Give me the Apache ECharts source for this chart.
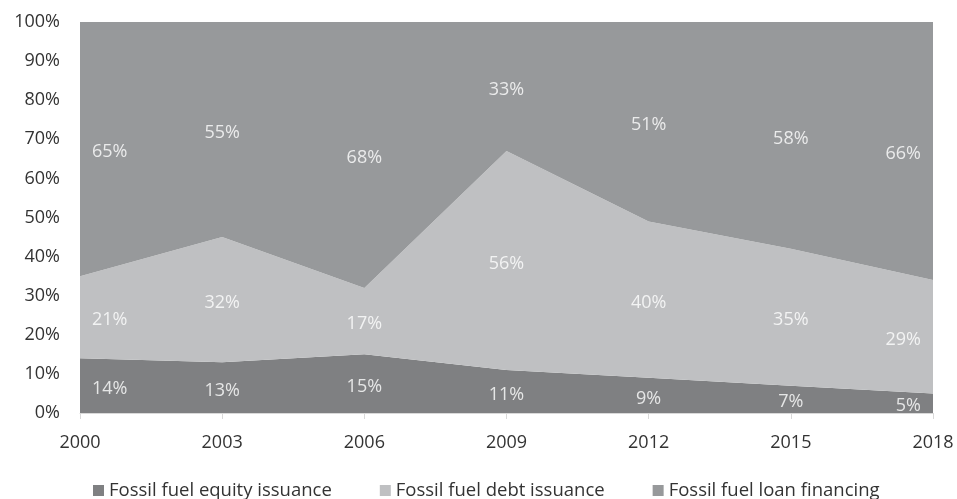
<!DOCTYPE html>
<html>
<head>
<meta charset="utf-8">
<script src="https://cdn.jsdelivr.net/npm/echarts@6/dist/echarts.min.js"></script>
<style>
html, body { margin: 0; padding: 0; background: #fff; }
#chart { width: 957px; height: 499px; }
</style>
</head>
<body>
<div id="chart"></div>
<script>
const years = ['2000', '2003', '2006', '2009', '2012', '2015', '2018']
const equity = [14, 13, 15, 11, 9, 7, 5]
const debt = [21, 32, 17, 56, 40, 35, 29]
const loan = [65, 55, 68, 33, 51, 58, 66]
const yTicks = [0, 10, 20, 30, 40, 50, 60, 70, 80, 90, 100]

const layers = [
  { name: 'Fossil fuel equity issuance', color: '#7f8082', data: equity },
  { name: 'Fossil fuel debt issuance', color: '#bfc0c2', data: debt },
  { name: 'Fossil fuel loan financing', color: '#97999b', data: loan }
]

const font = 'Open Sans, Lato, sans-serif'
const chart = echarts.init(document.getElementById('chart'))

// label points sit in the middle of each band
const labelSeries = layers.map((layer, li) => ({
  type: 'scatter',
  symbolSize: 1,
  silent: true,
  z: 10,
  itemStyle: { color: 'rgba(0,0,0,0)' },
  data: layer.data.map((v, i) => {
    let base = 0
    for (let k = 0; k < li; k++) base += layers[k].data[i]
    const first = i === 0
    const last = i === layer.data.length - 1
    return {
      value: [i, base + v / 2],
      label: {
        align: first ? 'left' : last ? 'right' : 'center',
        offset: [first ? 12 : last ? -12 : 0, 3]
      }
    }
  }),
  label: {
    show: true,
    position: 'inside',
    color: '#ffffff',
    fontFamily: font,
    fontSize: 18,
    formatter: p => layer.data[p.dataIndex] + '%'
  }
}))

chart.setOption({
  animation: false,
  grid: { left: 80, right: 24, top: 22, bottom: 86 },
  legend: {
    top: 476,
    left: 88,
    itemWidth: 11,
    itemHeight: 11,
    itemGap: 48,
    icon: 'rect',
    data: layers.map(l => l.name),
    textStyle: { color: '#333', fontFamily: font, fontSize: 18.5 }
  },
  xAxis: {
    type: 'category',
    data: years,
    boundaryGap: false,
    axisLine: { lineStyle: { color: '#d9d9d9' } },
    axisTick: { show: true, length: 6, lineStyle: { color: '#d9d9d9' } },
    axisLabel: { color: '#333', fontFamily: font, fontSize: 18, margin: 21 },
    splitLine: { show: false }
  },
  yAxis: {
    type: 'value',
    min: yTicks[0],
    max: yTicks[yTicks.length - 1],
    interval: 10,
    axisLine: { show: false },
    axisTick: { show: false },
    splitLine: { show: false },
    axisLabel: { color: '#333', fontFamily: font, fontSize: 18, margin: 20, formatter: '{value}%' }
  },
  series: layers.map(layer => ({
    name: layer.name,
    type: 'line',
    stack: 'total',
    symbol: 'none',
    data: layer.data,
    color: layer.color,
    lineStyle: { width: 0 },
    areaStyle: { color: layer.color, opacity: 1 }
  })).concat(labelSeries)
})
</script>
</body>
</html>
